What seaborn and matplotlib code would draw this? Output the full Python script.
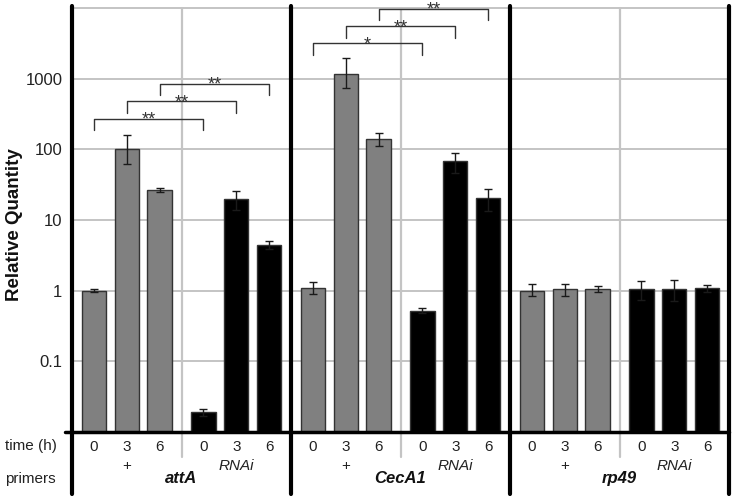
import matplotlib
matplotlib.use('Agg')
import matplotlib.pyplot as plt
import matplotlib.ticker as mticker
import seaborn as sns
import pandas as pd
import numpy as np

# Dados (escala log)
genes = ['attA', 'CecA1', 'rp49']
treatments = ['+', 'RNAi']
times = ['0', '3', '6']

# ordem: + 0h, + 3h, + 6h, RNAi 0h, RNAi 3h, RNAi 6h
attA_mean = [1.0, 100, 27, 0.019, 19.6, 4.5]
attA_low = [0.95, 63, 25, 0.0167, 13.8, 3.94]
attA_high = [1.05, 162, 28.7, 0.0213, 25.4, 5.06]

CecA1_mean = [1.08, 1180, 141, 0.52, 68, 20.5]
CecA1_low = [0.89, 741, 113, 0.48, 46.5, 13.2]
CecA1_high = [1.33, 1967, 168, 0.56, 89.5, 27.8]

rp49_mean = [1.0, 1.04, 1.06, 1.04, 1.06, 1.08]
rp49_low = [0.83, 0.84, 0.97, 0.73, 0.71, 0.95]
rp49_high = [1.25, 1.26, 1.15, 1.35, 1.41, 1.21]

# comparacoes significativas (+ vs RNAi no mesmo tempo)
bracket_gene = ['attA', 'attA', 'attA', 'CecA1', 'CecA1', 'CecA1']
bracket_time = ['0', '3', '6', '0', '3', '6']
bracket_top = [273, 480, 853, 3206, 5500, 9780]
bracket_label = ['**', '**', '**', '*', '**', '**']

ytick_values = [0.1, 1, 10, 100, 1000]
ytick_labels = ['0.1', '1', '10', '100', '1000']

means = {'attA': attA_mean, 'CecA1': CecA1_mean, 'rp49': rp49_mean}
lows = {'attA': attA_low, 'CecA1': CecA1_low, 'rp49': rp49_low}
highs = {'attA': attA_high, 'CecA1': CecA1_high, 'rp49': rp49_high}

rows = []
for g, gene in enumerate(genes):
    for t, treat in enumerate(treatments):
        for k, time in enumerate(times):
            i = t * 3 + k
            slot = g * 2 + t
            rows.append({
                'gene': gene, 'treatment': treat, 'time': time,
                'value': means[gene][i], 'low': lows[gene][i], 'high': highs[gene][i],
                'pos': slot * 10 / 3 + 2 / 3 + k,
            })
df = pd.DataFrame(rows)

sns.set_theme(style='white')
plt.rcParams['font.family'] = ['Liberation Sans', 'DejaVu Sans']

W, H = 733, 498
fig = plt.figure(figsize=(W / 100, H / 100), dpi=100)
ax = fig.add_axes([72 / W, 66 / H, 657 / W, 424 / H])

sns.barplot(data=df, x='pos', y='value', hue='treatment',
            palette={'+': '#808080', 'RNAi': '#000000'},
            native_scale=True, dodge=False, width=0.74, errorbar=None,
            edgecolor='#333333', linewidth=1, legend=False, ax=ax, zorder=2)

ax.errorbar(df['pos'], df['value'],
            yerr=[df['value'] - df['low'], df['high'] - df['value']],
            fmt='none', ecolor='#1a1a1a', elinewidth=1, capsize=3, capthick=1, zorder=3)

ax.set_yscale('log')
ax.set_ylim(0.01, 10000)
ax.set_xlim(0, 20)
for s in ax.spines.values():
    s.set_visible(False)

# grade
for v in [0.1, 1, 10, 100, 1000, 10000]:
    ax.axhline(v, color='#c4c4c4', lw=1.4, zorder=0.5, clip_on=False)
for g in range(3):
    ax.axvline(g * 20 / 3 + 10 / 3, ymin=-0.059, ymax=1, color='#c4c4c4', lw=1.6,
               clip_on=False, zorder=0.5)
for x in [0, 20 / 3, 40 / 3, 20]:
    ax.axvline(x, ymin=-0.146, ymax=1.005, color='black', lw=3, clip_on=False, zorder=4)
ax.plot([-0.01, 1], [0, 0], transform=ax.transAxes, color='black', lw=2.5,
        clip_on=False, zorder=4)

# eixos
ax.set_yticks(ytick_values)
ax.set_yticklabels(ytick_labels)
ax.yaxis.set_minor_locator(mticker.NullLocator())
ax.tick_params(axis='y', length=0, pad=7, labelsize=12, colors='#222222')
ax.set_xticks(df['pos'])
ax.set_xticklabels(df['time'])
ax.tick_params(axis='x', length=0, pad=5.5, labelsize=11, colors='#222222')
ax.set_xlabel('')
ax.set_ylabel('')

trans = ax.get_xaxis_transform()
for g, gene in enumerate(genes):
    for t, treat in enumerate(treatments):
        xc = (g * 2 + t) * 10 / 3 + 5 / 3
        ax.text(xc, -0.080, treat, transform=trans, ha='center', va='center',
                fontsize=11, style='italic' if treat == 'RNAi' else 'normal', color='#222222')
    ax.text(g * 20 / 3 + 10 / 3, -0.1085, gene, transform=trans, ha='center', va='center',
            fontsize=12, fontweight='bold', style='italic', color='#111111')

fig.text(5 / W, 1 - 446 / H, 'time (h)', ha='left', va='center', fontsize=11, color='#222222')
fig.text(5 / W, 1 - 479 / H, 'primers', ha='left', va='center', fontsize=11, color='#222222')
fig.text(15 / W, 1 - 225 / H, 'Relative Quantity', rotation=90, ha='center', va='center',
         fontsize=13.5, fontweight='bold', color='#111111')

# colchetes de significancia
for gene, time, top, lbl in zip(bracket_gene, bracket_time, bracket_top, bracket_label):
    sel = df[(df['gene'] == gene) & (df['time'] == time)]
    x1 = sel[sel['treatment'] == '+']['pos'].iloc[0]
    x2 = sel[sel['treatment'] == 'RNAi']['pos'].iloc[0]
    ax.plot([x1, x1, x2, x2], [top / 1.46, top, top, top / 1.46], color='#333333',
            lw=1, clip_on=False, zorder=5)
    ax.annotate(lbl, ((x1 + x2) / 2, top), xytext=(0, -4.5), textcoords='offset points',
                ha='center', va='baseline', fontsize=13, color='#333333',
                annotation_clip=False)

fig.savefig('out.png', dpi=100)
